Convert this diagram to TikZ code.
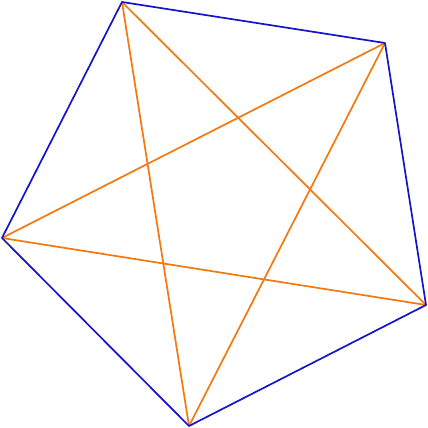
\documentclass[tikz,border=0pt]{standalone}
\definecolor{edgeblue}{RGB}{20,20,200}
\definecolor{diagorange}{RGB}{245,120,15}
\tikzset{edge/.style={edgeblue,line width=1.7pt,line join=round},
  diag/.style={diagorange,line width=1.7pt}}
\begin{document}
\begin{tikzpicture}[x=1pt,y=-1pt]
\useasboundingbox (0,0) rectangle (428,428);
\coordinate (A) at (122,2);
\coordinate (B) at (385,43);
\coordinate (C) at (426,305);
\coordinate (D) at (189,426);
\coordinate (E) at (2,238);
\draw[diag] (A) -- (C);
\draw[diag] (A) -- (D);
\draw[diag] (B) -- (D);
\draw[diag] (B) -- (E);
\draw[diag] (C) -- (E);
\draw[edge] (A) -- (B) -- (C) -- (D) -- (E) -- cycle;
\end{tikzpicture}
\end{document}
